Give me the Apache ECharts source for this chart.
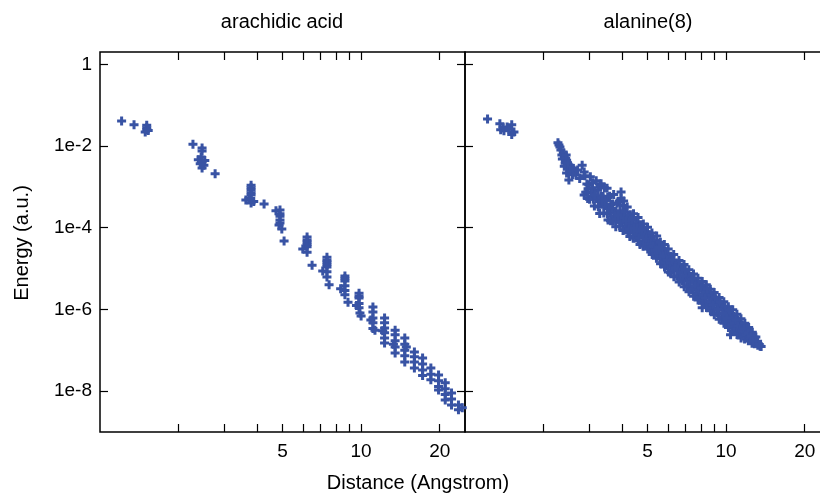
<!DOCTYPE html>
<html>
<head>
<meta charset="utf-8">
<script src="https://cdn.jsdelivr.net/npm/echarts@6/dist/echarts.min.js"></script>
<style>
  html, body { margin: 0; padding: 0; background: #fff; }
  #chart { width: 820px; height: 493px; }
</style>
</head>
<body>
<div id="chart"></div>
<script>
// panel titles and axis texts
const panelTitles = ['arachidic acid', 'alanine(8)']
const xAxisTitle = 'Distance (Angstrom)'
const yAxisTitle = 'Energy (a.u.)'

// log axes: range, tick marks and labelled ticks
const xRange = [1, 25]
const yRange = [1e-9, 2]
const xTickValues = [2, 3, 4, 5, 6, 7, 8, 9, 10, 20]
const xLabelValues = [5, 10, 20]
const yLabelValues = [1, 1e-2, 1e-4, 1e-6, 1e-8]

// [distance, energy]
const acidPoints = [
  [1.21, 4.1e-2],
  [1.35, 3.3e-2],
  [1.51, 3.2e-2], [1.51, 2.8e-2], [1.51, 2.5e-2], [1.49, 2.2e-2], [1.53, 2.4e-2],
  [2.27, 1.1e-2],
  [2.46, 8.9e-3], [2.46, 7.6e-3],
  [2.38, 4.6e-3], [2.44, 5.4e-3], [2.46, 4.1e-3], [2.50, 3.4e-3], [2.46, 2.9e-3], [2.52, 4.4e-3], [2.42, 3.7e-3],
  [2.76, 2.1e-3],
  [3.79, 1.1e-3], [3.79, 9.5e-4], [3.79, 8.4e-4], [3.79, 7.2e-4], [3.79, 6.3e-4], [3.62, 4.8e-4], [3.88, 4.4e-4], [3.79, 4.0e-4], [3.72, 5.2e-4],
  [4.25, 3.8e-4],
  [4.72, 2.6e-4], [4.89, 2.7e-4], [4.89, 2.2e-4], [4.89, 1.9e-4], [4.89, 1.55e-4], [4.89, 1.3e-4], [4.85, 1.17e-4], [4.97, 9.3e-5],
  [5.07, 4.7e-5],
  [6.21, 5.9e-5], [6.21, 5.0e-5], [6.21, 4.5e-5], [6.21, 3.9e-5], [6.21, 3.4e-5], [5.98, 3.0e-5], [6.21, 2.5e-5],
  [6.49, 1.2e-5],
  [7.40, 1.9e-5], [7.40, 1.6e-5], [7.40, 1.45e-5], [7.40, 1.25e-5], [7.40, 1.1e-5], [7.13, 8.7e-6], [7.40, 8.4e-6], [7.40, 6.2e-6],
  [7.54, 4.0e-6],
  [8.67, 6.6e-6], [8.67, 5.7e-6], [8.67, 5.0e-6], [8.67, 3.8e-6], [8.35, 3.2e-6], [8.67, 2.9e-6], [8.67, 2.3e-6],
  [8.91, 1.5e-6],
  [9.82, 2.5e-6], [9.82, 2.1e-6], [9.82, 1.9e-6], [9.82, 1.4e-6], [9.60, 1.25e-6], [9.82, 1.1e-6], [9.90, 8.2e-7], [10.0, 6.9e-7],
  [11.1, 1.15e-6], [11.1, 8.7e-7], [11.1, 6.2e-7], [10.9, 5.5e-7], [11.1, 4.7e-7], [11.1, 3.4e-7], [11.3, 3.1e-7],
  [12.3, 6.2e-7], [12.3, 4.7e-7], [12.3, 3.5e-7], [12.1, 3.0e-7], [12.3, 2.7e-7], [12.3, 2.0e-7], [12.3, 1.5e-7],
  [13.5, 3.1e-7], [13.5, 2.4e-7], [13.5, 1.7e-7], [13.3, 1.4e-7], [13.5, 1.2e-7], [13.5, 8.6e-8],
  [14.7, 2.0e-7], [14.7, 1.4e-7], [14.9, 1.2e-7], [14.7, 1.0e-7], [14.7, 7.3e-8], [14.7, 5.2e-8],
  [16.0, 9.1e-8], [16.0, 6.9e-8], [16.0, 5.2e-8], [16.0, 3.7e-8],
  [17.2, 6.5e-8], [17.2, 4.6e-8], [17.2, 3.3e-8], [17.2, 2.4e-8],
  [18.5, 3.7e-8], [18.5, 2.6e-8], [18.5, 1.9e-8],
  [19.8, 2.5e-8], [19.8, 1.8e-8], [19.8, 1.3e-8], [19.8, 1.07e-8],
  [21.0, 1.6e-8], [21.0, 1.15e-8], [21.0, 8.3e-9], [21.0, 6.1e-9],
  [22.2, 9.0e-9], [22.2, 6.4e-9], [22.2, 4.6e-9],
  [23.6, 4.6e-9], [23.6, 3.5e-9],
  [24.4, 3.9e-9]
]

// [distance, energy]: short-range groups and outliers
const alanineNear = [
  [1.22, 4.6e-2], [1.36, 3.5e-2], [1.37, 2.5e-2], [1.41, 2.35e-2], [1.45, 2.9e-2],
  [1.51, 3.3e-2], [1.54, 2.2e-2], [1.51, 1.9e-2], [1.40, 2.8e-2], [1.47, 2.6e-2],
  [2.29, 1.06e-2], [2.27, 1.2e-2], [2.31, 9.5e-3], [2.38, 6.7e-3], [2.40, 5.5e-3], [2.36, 4.8e-3],
  [2.45, 4.5e-3], [2.42, 3.8e-3], [2.52, 3.4e-3], [2.48, 2.9e-3], [2.56, 2.6e-3], [2.40, 3.2e-3],
  [2.50, 1.47e-3], [2.66, 1.95e-3], [2.81, 3.4e-3], [2.86, 2.3e-3], [2.86, 6.3e-4], [2.62, 2.3e-3], [2.45, 2.2e-3],
  [2.33, 8.0e-3], [2.35, 6.0e-3], [2.43, 5.0e-3], [2.47, 3.9e-3], [2.55, 3.0e-3], [2.58, 2.0e-3],
  [2.53, 2.4e-3], [2.60, 2.8e-3], [2.70, 2.6e-3], [2.75, 1.6e-3], [2.44, 6.0e-3],
  [3.32, 1.2e-3], [3.96, 7.5e-4], [3.96, 5.3e-4], [4.05, 4.5e-4], [8.1, 1.1e-6], [10.4, 2.4e-7]
]

// [distance, energy]: the main band
const alanineBand = [
  [2.88, 1.86e-3], [2.93, 1.17e-3], [2.90, 7.4e-4], [2.95, 5.2e-4],
  [3.02, 1.78e-3], [2.98, 1.12e-3], [3.04, 7.1e-4], [3.00, 5.0e-4],
  [3.08, 1.26e-3], [3.12, 7.9e-4], [3.10, 5.0e-4], [3.13, 3.4e-4],
  [3.18, 1.41e-3], [3.22, 8.3e-4], [3.20, 5.2e-4], [3.24, 3.2e-4],
  [3.29, 1.02e-3], [3.31, 6.0e-4], [3.33, 3.8e-4], [3.28, 2.24e-4],
  [3.42, 9.5e-4], [3.38, 5.8e-4], [3.41, 3.6e-4], [3.40, 2.3e-4],
  [3.50, 9.3e-4], [3.52, 5.5e-4], [3.48, 3.5e-4], [3.51, 2.2e-4], [3.53, 1.55e-4],
  [3.58, 5.9e-4], [3.62, 3.7e-4], [3.60, 2.35e-4], [3.61, 1.48e-4],
  [3.71, 6.5e-4], [3.68, 3.8e-4], [3.72, 2.3e-4], [3.70, 1.45e-4],
  [3.82, 4.0e-4], [3.79, 2.5e-4], [3.80, 1.58e-4], [3.78, 1.05e-4],
  [3.90, 4.4e-4], [3.92, 2.6e-4], [3.88, 1.66e-4], [3.91, 1.1e-4],
  [4.02, 3.5e-4], [3.98, 2.1e-4], [4.00, 1.35e-4], [4.03, 8.5e-5],
  [4.10, 2.4e-4], [4.12, 9.4e-5],
  [4.18, 3.2e-4], [4.22, 1.86e-4], [4.20, 1.17e-4], [4.21, 7.4e-5],
  [4.30, 2.07e-4], [4.32, 1.16e-4], [4.28, 6.1e-5],
  [4.42, 2.2e-4], [4.38, 1.29e-4], [4.40, 8.1e-5], [4.41, 5.5e-5],
  [4.50, 1.33e-4], [4.52, 6.1e-5],
  [4.60, 1.78e-4], [4.62, 1.07e-4], [4.58, 6.8e-5], [4.61, 4.7e-5],
  [4.70, 1.19e-4], [4.72, 7.0e-5], [4.68, 3.9e-5],
  [4.82, 1.23e-4], [4.78, 7.2e-5], [4.80, 4.6e-5], [4.81, 3.5e-5],
  [4.90, 8.0e-5], [4.92, 3.7e-5],
  [5.00, 1.02e-4], [5.03, 6.5e-5], [4.98, 4.3e-5], [5.01, 3.0e-5],
  [5.10, 6.7e-5], [5.12, 3.0e-5],
  [5.20, 7.4e-5], [5.22, 4.7e-5], [5.18, 3.2e-5], [5.21, 2.2e-5],
  [5.30, 4.7e-5], [5.32, 2.3e-5],
  [5.42, 6.3e-5], [5.38, 3.5e-5], [5.40, 2.3e-5], [5.41, 1.78e-5],
  [5.50, 4.2e-5], [5.52, 2.3e-5],
  [5.60, 4.4e-5], [5.62, 2.6e-5], [5.58, 1.74e-5], [5.61, 1.32e-5],
  [5.70, 3.1e-5], [5.72, 1.41e-5],
  [5.80, 3.9e-5], [5.83, 2.3e-5], [5.78, 1.58e-5], [5.81, 1.1e-5],
  [5.90, 2.3e-5], [5.92, 1.17e-5],
  [6.00, 3.0e-5], [6.03, 1.78e-5], [5.98, 1.17e-5], [6.01, 8.3e-6],
  [6.15, 2.0e-5], [6.17, 1.12e-5], [6.13, 7.9e-6],
  [6.30, 2.2e-5], [6.33, 1.35e-5], [6.28, 9.1e-6], [6.31, 6.3e-6],
  [6.45, 1.36e-5], [6.47, 6.5e-6],
  [6.60, 1.58e-5], [6.63, 1.0e-5], [6.58, 6.6e-6], [6.61, 4.7e-6],
  [6.75, 1.1e-5], [6.77, 5.1e-6],
  [6.90, 1.26e-5], [6.93, 7.8e-6], [6.88, 5.4e-6], [6.91, 3.6e-6],
  [7.05, 7.5e-6], [7.07, 3.6e-6],
  [7.20, 9.3e-6], [7.23, 5.8e-6], [7.18, 3.8e-6], [7.21, 2.7e-6],
  [7.35, 6.4e-6], [7.37, 3.05e-6],
  [7.50, 7.4e-6], [7.53, 4.6e-6], [7.48, 3.1e-6], [7.51, 2.1e-6],
  [7.65, 4.8e-6], [7.67, 2.3e-6],
  [7.80, 5.8e-6], [7.83, 3.5e-6], [7.78, 2.4e-6], [7.81, 1.7e-6],
  [7.95, 4.0e-6], [7.97, 1.97e-6],
  [8.10, 4.8e-6], [8.13, 2.95e-6], [8.08, 2.0e-6], [8.11, 1.41e-6],
  [8.25, 3.0e-6], [8.27, 1.43e-6],
  [8.40, 4.0e-6], [8.43, 2.4e-6], [8.38, 1.58e-6], [8.41, 1.12e-6],
  [8.55, 2.66e-6], [8.57, 1.27e-6],
  [8.70, 3.1e-6], [8.73, 1.9e-6], [8.68, 1.32e-6], [8.71, 9.3e-7],
  [8.85, 2.07e-6], [8.87, 9.9e-7],
  [9.00, 2.6e-6], [9.04, 1.62e-6], [8.97, 1.07e-6], [9.01, 7.4e-7],
  [9.20, 1.64e-6], [9.22, 8.2e-7],
  [9.40, 1.95e-6], [9.44, 1.2e-6], [9.37, 8.1e-7], [9.41, 5.75e-7],
  [9.60, 1.3e-6], [9.62, 6.1e-7],
  [9.80, 1.55e-6], [9.84, 9.5e-7], [9.77, 6.5e-7], [9.81, 4.6e-7],
  [10.0, 1.0e-6], [10.03, 5.0e-7],
  [10.2, 1.17e-6], [10.24, 7.4e-7], [10.17, 5.1e-7], [10.21, 3.6e-7],
  [10.4, 8.0e-7], [10.43, 4.1e-7],
  [10.6, 9.8e-7], [10.64, 6.2e-7], [10.57, 4.2e-7], [10.61, 3.0e-7],
  [10.8, 6.5e-7], [10.83, 3.2e-7],
  [11.0, 7.6e-7], [11.04, 4.7e-7], [10.97, 3.3e-7], [11.01, 2.45e-7],
  [11.2, 5.0e-7], [11.23, 2.6e-7],
  [11.4, 5.9e-7], [11.44, 3.8e-7], [11.37, 2.7e-7], [11.41, 2.0e-7],
  [11.6, 4.0e-7], [11.63, 2.26e-7],
  [11.8, 4.6e-7], [11.84, 2.9e-7], [11.77, 1.9e-7],
  [12.0, 3.5e-7], [12.03, 2.0e-7],
  [12.2, 3.6e-7], [12.24, 2.4e-7], [12.17, 1.7e-7],
  [12.4, 2.6e-7], [12.43, 1.74e-7],
  [12.6, 2.75e-7], [12.64, 1.9e-7], [12.57, 1.48e-7],
  [12.8, 2.1e-7], [12.83, 1.45e-7],
  [13.0, 2.1e-7], [13.04, 1.48e-7],
  [13.2, 1.66e-7], [13.22, 1.32e-7],
  [13.4, 1.38e-7], [13.5, 1.26e-7],
  [13.62, 1.24e-7],
  // points filling the middle of the band
  [2.96, 9.0e-4], [3.06, 9.5e-4], [3.15, 6.3e-4], [3.26, 4.4e-4], [3.36, 4.5e-4], [3.45, 4.6e-4],
  [3.55, 2.9e-4], [3.65, 3.0e-4], [3.75, 1.95e-4], [3.85, 2.0e-4], [3.95, 1.4e-4], [4.06, 1.7e-4],
  [4.15, 1.45e-4], [4.25, 9.5e-5], [4.35, 1.6e-4], [4.45, 1.0e-4], [4.55, 8.5e-5], [4.65, 5.6e-5],
  [4.75, 9.0e-5], [4.85, 5.8e-5], [4.95, 5.2e-5], [5.05, 4.0e-5], [5.15, 4.0e-5], [5.25, 3.6e-5],
  [5.35, 2.9e-5], [5.45, 2.8e-5], [5.55, 3.3e-5], [5.65, 2.0e-5], [5.75, 2.0e-5], [5.85, 1.35e-5],
  [5.95, 1.6e-5], [6.08, 1.4e-5], [6.22, 1.6e-5], [6.38, 1.05e-5], [6.52, 9.5e-6], [6.68, 8.0e-6],
  [6.83, 6.5e-6], [6.98, 9.5e-6], [7.12, 5.0e-6], [7.28, 4.6e-6], [7.42, 5.5e-6], [7.58, 3.8e-6],
  [7.72, 3.0e-6], [7.88, 2.8e-6], [8.02, 3.4e-6], [8.18, 2.3e-6], [8.32, 1.9e-6], [8.48, 3.2e-6],
  [8.62, 1.6e-6], [8.78, 1.5e-6], [8.92, 1.3e-6], [9.10, 2.0e-6], [9.30, 1.0e-6], [9.50, 1.5e-6],
  [9.70, 8.0e-7], [9.90, 1.2e-6], [10.1, 6.0e-7], [10.3, 9.5e-7], [10.5, 5.2e-7], [10.7, 4.8e-7],
  [10.9, 5.5e-7], [11.1, 3.9e-7], [11.3, 3.2e-7], [11.5, 3.0e-7], [11.7, 3.3e-7], [11.9, 2.4e-7],
  [12.1, 2.7e-7], [12.3, 2.1e-7], [12.5, 2.2e-7], [12.7, 1.7e-7]
]

const lg = v => Math.log10(v)
const toLog = pts => pts.map(p => [lg(p[0]), lg(p[1])])

const font = '"Liberation Sans", Arial, Helvetica, sans-serif'
const markColor = '#3853a4'
// thick gnuplot-style "+"
const plusMark = 'path://M3,0h3v3h3v3h-3v3h-3v-3h-3v-3h3z'

const tickStyle = { inside: true, length: 8, lineStyle: { color: '#000', width: 1.2 } }

function xAxisFor(grid, position, showLabels) {
  return {
    type: 'value', gridIndex: grid, position: position,
    min: lg(xRange[0]), max: lg(xRange[1]),
    axisLine: { show: false, onZero: false },
    splitLine: { show: false },
    axisTick: { ...tickStyle, customValues: xTickValues.map(lg) },
    axisLabel: {
      show: showLabels,
      customValues: xLabelValues.map(lg),
      formatter: v => String(Math.round(Math.pow(10, v))),
      color: '#000', fontSize: 19, fontFamily: font, margin: 10,
    },
  }
}

function yAxisFor(grid, position, showLabels) {
  return {
    type: 'value', gridIndex: grid, position: position,
    min: lg(yRange[0]), max: lg(yRange[1]),
    axisLine: { show: false, onZero: false },
    splitLine: { show: false },
    axisTick: { ...tickStyle, customValues: yLabelValues.map(lg) },
    axisLabel: {
      show: showLabels,
      customValues: yLabelValues.map(lg),
      formatter: v => {
        const e = Math.round(v)
        return e === 0 ? '1' : '1e' + e
      },
      color: '#000', fontSize: 19, fontFamily: font, margin: 8,
    },
  }
}

const chart = echarts.init(document.getElementById('chart'))

const gridBox = {
  top: 52, width: 365, height: 380,
  show: true, borderColor: '#000', borderWidth: 1.5,
  outerBoundsMode: 'none', containLabel: false,
}

const scatterStyle = {
  symbol: plusMark, symbolSize: 9,
  itemStyle: { color: markColor, opacity: 1 },
}

const option = {
  animation: false,
  backgroundColor: '#fff',
  grid: [
    { ...gridBox, left: 100 },
    { ...gridBox, left: 465 },
  ],
  xAxis: [
    xAxisFor(0, 'bottom', true), xAxisFor(0, 'top', false),
    xAxisFor(1, 'bottom', true), xAxisFor(1, 'top', false),
  ],
  yAxis: [
    yAxisFor(0, 'left', true), yAxisFor(0, 'right', false),
    yAxisFor(1, 'left', false), yAxisFor(1, 'right', false),
  ],
  series: [
    { name: panelTitles[0], type: 'scatter', xAxisIndex: 0, yAxisIndex: 0, data: toLog(acidPoints), ...scatterStyle },
    { name: panelTitles[1], type: 'scatter', xAxisIndex: 2, yAxisIndex: 2, data: toLog(alanineNear), ...scatterStyle },
    { name: panelTitles[1], type: 'scatter', xAxisIndex: 2, yAxisIndex: 2, data: toLog(alanineBand), ...scatterStyle },
  ],
  graphic: [
    { type: 'text', x: 282, y: 22, style: { text: panelTitles[0], font: '20px ' + font, fill: '#000', align: 'center', verticalAlign: 'middle' } },
    { type: 'text', x: 648, y: 22, style: { text: panelTitles[1], font: '20px ' + font, fill: '#000', align: 'center', verticalAlign: 'middle' } },
    { type: 'text', x: 418, y: 483, style: { text: xAxisTitle, font: '20px ' + font, fill: '#000', align: 'center', verticalAlign: 'middle' } },
    { type: 'text', x: 22, y: 243, rotation: Math.PI / 2, style: { text: yAxisTitle, font: '20px ' + font, fill: '#000', align: 'center', verticalAlign: 'middle' } },
  ],
}

chart.setOption(option)
</script>
</body>
</html>
